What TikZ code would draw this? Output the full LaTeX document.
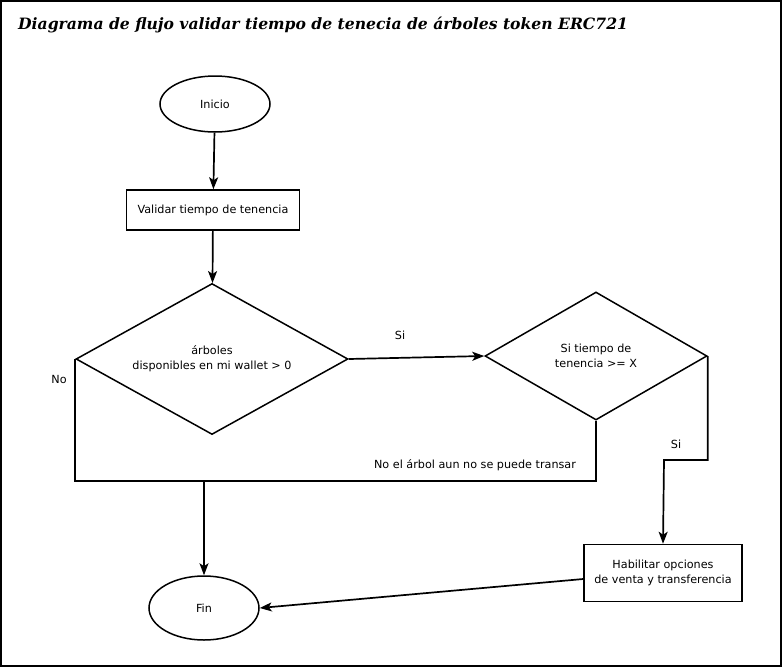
\documentclass[tikz,border=0pt]{standalone}
\usepackage{fontspec}
\setmainfont{DejaVu Sans}
\newfontfamily\titlefont{DejaVu Serif}
\usetikzlibrary{shapes.geometric,arrows.meta}
\tikzset{
  shp/.style={draw=black, line width=1.5pt, inner sep=0pt, align=center, font=\fontsize{11.2}{15}\selectfont},
  oval/.style={shp, ellipse},
  procbox/.style={shp, rectangle},
  decision/.style={shp, diamond},
  conn/.style={draw=black, line width=1.7pt},
  arr/.style={conn, -{Stealth[length=12pt,width=9pt,inset=3pt]}},
  lbl/.style={inner sep=0pt, font=\fontsize{11.2}{15}\selectfont}
}
\begin{document}
\begin{tikzpicture}[x=1pt,y=-1pt]
\useasboundingbox (0,0) rectangle (782,667);
\draw[line width=2pt] (1,1) rectangle (781,666);
\node[anchor=west, inner sep=0pt, font=\titlefont\bfseries\itshape\fontsize{15.6}{18}\selectfont] (title) at (18,25) {Diagrama de flujo validar tiempo de tenecia de árboles token ERC721};

\node[oval, minimum width=110pt, minimum height=56pt] (ini) at (215,104) {Inicio};
\node[procbox, minimum width=173pt, minimum height=40pt] (val) at (213,210) {Validar tiempo de tenencia};
\node[decision, aspect=1.8, minimum width=272pt, minimum height=151pt] (d1) at (212,359) {árboles\\disponibles en mi wallet > 0};
\node[decision, aspect=1.73, minimum width=222pt, minimum height=128pt] (d2) at (596,356) {Si tiempo de\\tenencia >= X};
\node[procbox, minimum width=158pt, minimum height=57pt] (hab) at (663,573) {Habilitar opciones\\de venta y transferencia};
\node[oval, minimum width=110pt, minimum height=64pt] (fin) at (204,608) {Fin};

\coordinate (j) at (204,481);
\coordinate (k) at (664,460);

\draw[arr] (ini) -- (val);
\draw[arr] (val) -- (d1);
\draw[arr] (d1.east) -- (d2.west);
\draw[conn] (d1.west) |- (j);
\draw[conn] (d2.south) |- (j);
\draw[arr] (j) -- (fin);
\draw[arr] (d2.east) |- (k) -- (hab.north);
\draw[arr] ([yshift=-6pt]hab.west) -- (fin.east);

\node[lbl] (si1) at (400,335) {Si};
\node[lbl] (no1) at (59,379) {No};
\node[lbl] (si2) at (676,444) {Si};
\node[lbl] (no2) at (475,465) {No el árbol aun no se puede transar};
\end{tikzpicture}
\end{document}
